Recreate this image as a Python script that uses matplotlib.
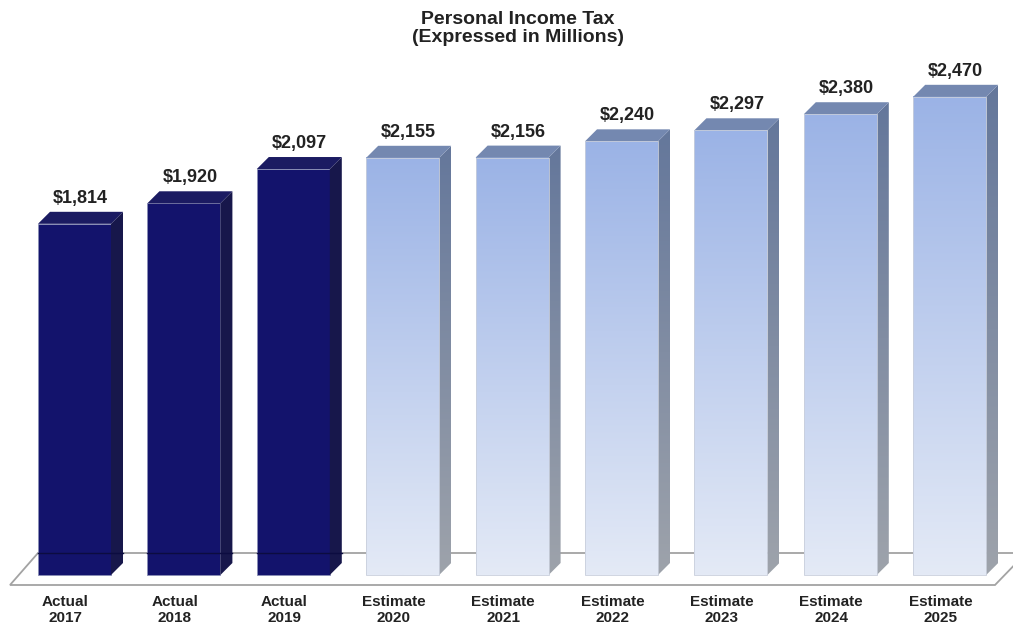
import numpy as np
import matplotlib
matplotlib.use("Agg")
import matplotlib.pyplot as plt
from matplotlib.patches import Polygon, Rectangle
from matplotlib.colors import LinearSegmentedColormap

plt.rcParams['font.family'] = ['Liberation Sans', 'DejaVu Sans']

# data
kinds = ["Actual", "Actual", "Actual", "Estimate", "Estimate", "Estimate",
         "Estimate", "Estimate", "Estimate"]
years = ["2017", "2018", "2019", "2020", "2021", "2022", "2023", "2024", "2025"]
values = [1814, 1920, 2097, 2155, 2156, 2240, 2297, 2380, 2470]

# layout (pixels of a 1013x625 canvas)
W, H = 1013, 625
PX_PER_M = 0.1936      # pixels per $1M
ZERO_PX = 575           # baseline, px from top
SLOT = 109.4            # px between bars
FIRST = 74.5            # px centre of first bar front
BAR_W = 73 / SLOT
DX = 12 / SLOT
DY = 12 / PX_PER_M


def px(n):   # horizontal px -> x units
    return n / SLOT


def py(n):   # vertical px -> value units
    return n / PX_PER_M


fig = plt.figure(figsize=(W / 100, H / 100), dpi=100)
ax = fig.add_axes([0, 0, 1, 1])
ax.axis("off")
xlim = (-FIRST / SLOT, (W - FIRST) / SLOT)
ylim = (-(H - ZERO_PX) / PX_PER_M, ZERO_PX / PX_PER_M)

# floor
fy = -py(10)
fl = xlim[0] + px(10)
fr = xlim[0] + px(995)
floor = Polygon([[fl, fy], [fr, fy], [fr + px(31), fy + py(32)], [fl + px(28), fy + py(32)]],
                closed=True, facecolor="white", edgecolor="#a3a3a3", lw=1.3, zorder=1)
ax.add_patch(floor)

front_cmap = LinearSegmentedColormap.from_list("front", ["#9bb3e6", "#e4eaf6"])
side_cmap = LinearSegmentedColormap.from_list("side", ["#64779b", "#9ea3ab"])
grad = np.linspace(0, 1, 256).reshape(-1, 1)

for i, (k, v) in enumerate(zip(kinds, values)):
    x0 = i - BAR_W / 2
    x1 = i + BAR_W / 2
    side = [[x1, 0], [x1 + DX, DY], [x1 + DX, v + DY], [x1, v]]
    top = [[x0, v], [x1, v], [x1 + DX, v + DY], [x0 + DX, v + DY]]
    if k == "Actual":
        ax.add_patch(Rectangle((x0, 0), BAR_W, v, facecolor="#13136c",
                               edgecolor="#8a8fb5", lw=0.6, zorder=3))
        ax.add_patch(Polygon(side, closed=True, facecolor="#17174b", lw=0, zorder=3))
        ax.add_patch(Polygon(top, closed=True, facecolor="#1b1b62", lw=0, zorder=3))
        # floor back edge shows faintly through the dark bars
        ax.plot([x0, x1 + DX], [fy + py(32), fy + py(32)], color="#0c0c40",
                lw=1.0, zorder=3.2)
    else:
        ax.imshow(grad, cmap=front_cmap, extent=[x0, x1, 0, v], origin="upper",
                  aspect="auto", zorder=3)
        ax.add_patch(Rectangle((x0, 0), BAR_W, v, facecolor="none",
                               edgecolor="#c9cfdc", lw=0.6, zorder=3.1))
        sp = Polygon(side, closed=True, facecolor="none", lw=0)
        ax.add_patch(sp)
        im = ax.imshow(grad, cmap=side_cmap, extent=[x1, x1 + DX, 0, v + DY],
                       origin="upper", aspect="auto", zorder=3)
        im.set_clip_path(sp)
        ax.add_patch(Polygon(top, closed=True, facecolor="#7488b0", lw=0, zorder=3))

    ax.text(i + DX / 2, v + DY + py(5), "${:,}".format(v), ha="center", va="bottom",
            fontsize=13, fontweight="bold", color="#222222", zorder=5)
    ax.text(i - px(9), -py(20), k + "\n" + years[i], ha="center", va="top",
            fontsize=11, fontweight="bold", color="#222222", linespacing=1.15)

ax.text(xlim[0] + px(518), ylim[1] - py(11), "Personal Income Tax\n(Expressed in Millions)",
        ha="center", va="top", fontsize=14, fontweight="bold", color="#222222",
        linespacing=1.05)

ax.set_xlim(*xlim)
ax.set_ylim(*ylim)
fig.savefig("out.png", dpi=100)
